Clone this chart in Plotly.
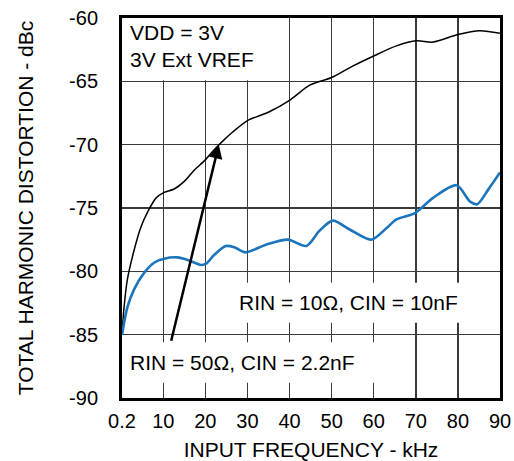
import plotly.graph_objects as go

# ---- data ----
freq_50 = [0.2, 0.7, 1.5, 3.1, 4.7, 6.3, 8.3, 10, 12.6, 15, 17.4, 20, 22.1, 24.5, 26.5,
           30, 33, 35.2, 40, 44.8, 50, 55, 60, 65.4, 70.2, 74.1, 80, 85.2, 90]
thd_50 = [-85, -82.8, -80.6, -78.3, -76.5, -75.3, -74.2, -73.8, -73.5, -72.9, -72.0, -71.2,
          -70.4, -69.6, -69.0, -68.1, -67.7, -67.4, -66.5, -65.3, -64.7, -63.8, -63.0, -62.2,
          -61.8, -61.9, -61.3, -61.0, -61.2]

freq_10 = [0.2, 1.5, 3.1, 5.5, 7.9, 10.2, 13.4, 15.8, 19, 20.2, 22.1, 24.9, 26.9, 29.5, 34.4,
           39.6, 44, 47.1, 50.3, 54.3, 59.4, 63, 65.4, 69.8, 74.1, 79.7, 82.9, 84.6, 87.2, 90]
thd_10 = [-85, -82.8, -81.4, -80.1, -79.3, -79.0, -78.9, -79.1, -79.5, -79.4, -78.7, -78.0,
          -78.1, -78.5, -77.9, -77.5, -78.0, -76.8, -76.0, -76.7, -77.5, -76.6, -75.9, -75.4,
          -74.2, -73.2, -74.5, -74.7, -73.55, -72.2]

x_ticks = [0.2, 10, 20, 30, 40, 50, 60, 70, 80, 90]
x_tick_labels = ["0.2", "10", "20", "30", "40", "50", "60", "70", "80", "90"]
y_ticks = [-90, -85, -80, -75, -70, -65, -60]
y_tick_labels = ["-90", "-85", "-80", "-75", "-70", "-65", "-60"]

FONT = "Liberation Sans, Arial, Helvetica, sans-serif"

fig = go.Figure()
fig.add_trace(go.Scatter(x=freq_50, y=thd_50, mode="lines",
                         line=dict(color="black", width=1.5, shape="spline", smoothing=0.8),
                         name="RIN = 50Ω, CIN = 2.2nF", hoverinfo="skip"))
fig.add_trace(go.Scatter(x=freq_10, y=thd_10, mode="lines",
                         line=dict(color="#1b75bc", width=2.6, shape="spline", smoothing=0.8),
                         name="RIN = 10Ω, CIN = 10nF", hoverinfo="skip"))

# white masks over the grid behind the labels
mask = dict(type="rect", xref="x", yref="y", fillcolor="white", line=dict(width=0), layer="between")
fig.add_shape(x0=0.2, x1=32.5, y0=-64.92, y1=-60, **mask)
fig.add_shape(x0=26, x1=82, y0=-84.05, y1=-80.9, **mask)
fig.add_shape(x0=0.2, x1=61.5, y0=-88.8, y1=-85.6, **mask)

ann_font = dict(family=FONT, size=21, color="black")
fig.add_annotation(x=1.7, y=-62.2, xref="x", yref="y", text="VDD = 3V<br>3V Ext VREF",
                   showarrow=False, xanchor="left", yanchor="middle", align="left", font=ann_font)
fig.add_annotation(x=27.6, y=-82.45, xref="x", yref="y", text="RIN = 10Ω, CIN = 10nF",
                   showarrow=False, xanchor="left", yanchor="middle", font=ann_font)
fig.add_annotation(x=1.7, y=-87.2, xref="x", yref="y", text="RIN = 50Ω, CIN = 2.2nF",
                   showarrow=False, xanchor="left", yanchor="middle", font=ann_font)
fig.add_annotation(x=23.2, y=-70.0, ax=11.8, ay=-85.6, xref="x", yref="y", axref="x", ayref="y",
                   text="", showarrow=True, arrowhead=2, arrowsize=1.1, arrowwidth=2.5,
                   arrowcolor="black", standoff=0, startstandoff=0)

fig.update_layout(
    width=514, height=461,
    margin=dict(l=122, r=14, t=18, b=63, autoexpand=False),
    paper_bgcolor="white", plot_bgcolor="white",
    showlegend=False,
    font=dict(family=FONT, size=20, color="black"),
)
fig.update_xaxes(
    range=[0.2, 90], tickmode="array", tickvals=x_ticks, ticktext=x_tick_labels,
    showgrid=True, gridcolor="#3a3a3a", gridwidth=1.5, zeroline=False,
    showline=True, linecolor="black", linewidth=3, mirror=True,
    ticks="", ticklabelstandoff=3, automargin=False,
    tickfont=dict(family=FONT, size=20, color="black"),
    title=dict(text="INPUT FREQUENCY - kHz", font=dict(family=FONT, size=21, color="black"), standoff=24),
    fixedrange=True,
)
fig.update_yaxes(
    range=[-90, -60], tickmode="array", tickvals=y_ticks, ticktext=y_tick_labels,
    showgrid=True, gridcolor="#3a3a3a", gridwidth=1.5, zeroline=False,
    showline=True, linecolor="black", linewidth=3, mirror=True,
    ticks="", ticklabelstandoff=17, automargin=False,
    tickfont=dict(family=FONT, size=20, color="black"),
    title=dict(text="TOTAL HARMONIC DISTORTION - dBc", font=dict(family=FONT, size=21, color="black"), standoff=30),
    fixedrange=True,
)

fig.write_html("out.html", config={"displayModeBar": False, "staticPlot": True},
               post_script="document.body.style.margin='0';")
